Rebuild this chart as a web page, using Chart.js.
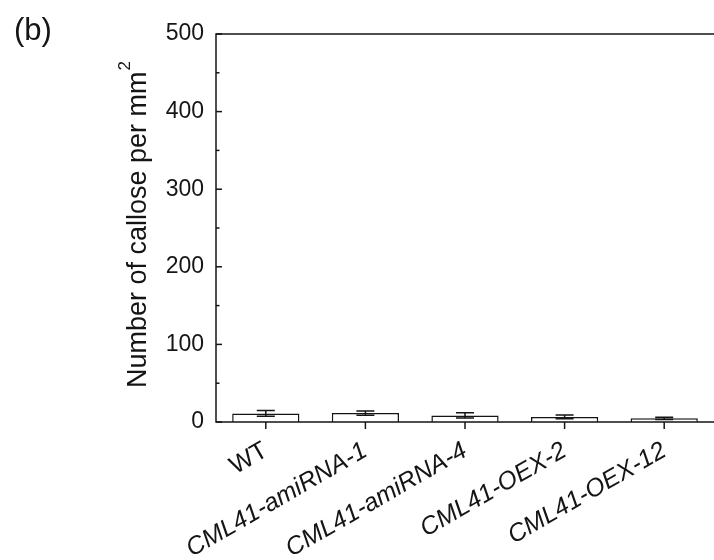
<!DOCTYPE html>
<html lang="en">
<head>
  <meta charset="UTF-8">
  <title>Callose per mm2</title>
  <script src="https://cdn.jsdelivr.net/npm/chart.js"></script>
  <style>
    html, body { margin: 0; padding: 0; background: #fff; }
    #wrap { width: 714px; height: 560px; }
  </style>
</head>
<body>
  <div id="wrap"><canvas id="callChart" width="714" height="560"></canvas></div>

  <script>
    const lines = ['WT', 'CML41-amiRNA-1', 'CML41-amiRNA-4', 'CML41-OEX-2', 'CML41-OEX-12'];
    const callose = [11, 11.5, 8.5, 6.5, 4.7];
    const calloseErr = [3.7, 2.8, 3.4, 2.4, 1.5];
    const yMax = 500;
    const yStep = 50;

    const FONT = "'Liberation Sans', Arial, sans-serif";
    const INK = '#151515';

    // axes, inward ticks, error bars, titles
    const decor = {
      id: 'decor',
      afterDatasetsDraw(chart) {
        const ctx = chart.ctx;
        const x = chart.scales.x;
        const y = chart.scales.y;
        const a = chart.chartArea;
        ctx.save();
        ctx.strokeStyle = INK;
        ctx.lineWidth = 1.5;

        // error bars
        callose.forEach((v, i) => {
          const px = x.getPixelForValue(i);
          const top = y.getPixelForValue(v + calloseErr[i]);
          const bot = y.getPixelForValue(v - calloseErr[i]);
          ctx.beginPath();
          ctx.moveTo(px, top); ctx.lineTo(px, bot);
          ctx.moveTo(px - 9, top); ctx.lineTo(px + 9, top);
          ctx.moveTo(px - 9, bot); ctx.lineTo(px + 9, bot);
          ctx.stroke();
        });

        // frame: left, bottom, top
        ctx.beginPath();
        ctx.moveTo(a.right, a.top); ctx.lineTo(a.left, a.top);
        ctx.lineTo(a.left, a.bottom); ctx.lineTo(a.right, a.bottom);
        ctx.stroke();

        // y ticks pointing in
        y.ticks.forEach(t => {
          const py = y.getPixelForValue(t.value);
          const len = t.value % 100 === 0 ? 6 : 3.5;
          ctx.beginPath();
          ctx.moveTo(a.left, py); ctx.lineTo(a.left + len, py);
          ctx.stroke();
        });

        // x ticks pointing out
        lines.forEach((_, i) => {
          const px = x.getPixelForValue(i);
          ctx.beginPath();
          ctx.moveTo(px, a.bottom); ctx.lineTo(px, a.bottom + 7);
          ctx.stroke();
        });

        // y title with superscript
        ctx.fillStyle = INK;
        ctx.translate(146, 225);
        ctx.rotate(-Math.PI / 2);
        ctx.font = '27px ' + FONT;
        const main = 'Number of callose per mm';
        const w1 = ctx.measureText(main).width;
        ctx.font = '17px ' + FONT;
        const w2 = ctx.measureText('2').width;
        const start = -(w1 + w2) / 2;
        ctx.textAlign = 'left';
        ctx.textBaseline = 'alphabetic';
        ctx.font = '27px ' + FONT;
        ctx.fillText(main, start, 0);
        ctx.font = '17px ' + FONT;
        ctx.fillText('2', start + w1 + 1, -16);
        ctx.restore();

        // panel letter
        ctx.save();
        ctx.fillStyle = INK;
        ctx.font = '31px ' + FONT;
        ctx.textBaseline = 'alphabetic';
        ctx.fillText('(b)', 14, 40);
        ctx.restore();
      }
    };

    new Chart(document.getElementById('callChart'), {
      type: 'bar',
      data: {
        labels: lines,
        datasets: [{
          data: callose,
          backgroundColor: '#fff',
          borderColor: INK,
          borderWidth: 1.5,
          categoryPercentage: 1,
          barPercentage: 0.675
        }]
      },
      options: {
        responsive: false,
        animation: false,
        layout: { padding: { top: 34, right: 0, left: 0, bottom: 0 } },
        plugins: { legend: { display: false }, tooltip: { enabled: false } },
        scales: {
          x: {
            grid: { display: false, drawTicks: false },
            border: { display: false },
            afterFit(s) { s.height = 138; s.paddingLeft = 0; s.paddingRight = 0; },
            ticks: {
              autoSkip: false,
              minRotation: 30,
              maxRotation: 30,
              padding: 14,
              color: INK,
              font: ctx => ({ family: FONT, size: 25, style: ctx.index === 0 ? 'normal' : 'italic' })
            }
          },
          y: {
            min: 0,
            max: yMax,
            grid: { display: false, drawTicks: false },
            border: { display: false },
            afterFit(s) { s.width = 216; s.paddingTop = 0; s.paddingBottom = 0; },
            ticks: {
              stepSize: yStep,
              padding: 12,
              color: INK,
              font: { family: FONT, size: 23 },
              callback: v => (v % 100 === 0 ? v : '')
            }
          }
        }
      },
      plugins: [decor]
    });
  </script>
</body>
</html>
